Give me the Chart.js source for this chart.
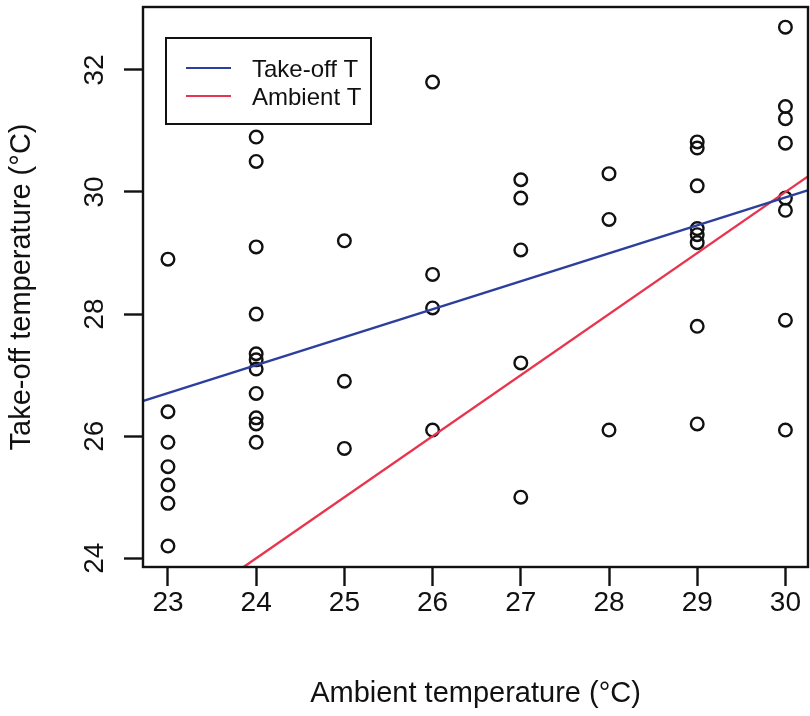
<!DOCTYPE html>
<html>
<head>
<meta charset="utf-8">
<script src="https://cdn.jsdelivr.net/npm/chart.js@4.4.1/dist/chart.umd.min.js"></script>
<style>
  html, body { margin: 0; padding: 0; background: #ffffff; }
  canvas { display: block; }
</style>
</head>
<body>
<canvas id="tempChart" width="810" height="716"></canvas>
<script>
// Observed temperatures (°C), grouped by ambient temperature
const ambientT = [
    23, 23, 23, 23, 23, 23, 23,
    24, 24, 24, 24, 24, 24, 24, 24, 24, 24, 24,
    25, 25, 25,
    26, 26, 26, 26,
    27, 27, 27, 27, 27,
    28, 28, 28,
    29, 29, 29, 29, 29, 29, 29, 29,
    30, 30, 30, 30, 30, 30, 30, 30
];
const takeoffT = [
    28.9, 26.4, 25.9, 25.5, 25.2, 24.9, 24.2,
    30.9, 30.5, 29.1, 28.0, 27.35, 27.25, 27.1, 26.7, 26.3, 26.2, 25.9,
    29.2, 26.9, 25.8,
    31.8, 28.65, 28.1, 26.1,
    30.2, 29.9, 29.05, 27.2, 25.0,
    30.3, 29.55, 26.1,
    30.82, 30.72, 30.1, 29.4, 29.3, 29.17, 27.8, 26.2,
    32.7, 31.4, 31.2, 30.8, 29.9, 29.7, 27.9, 26.1
];

// Fitted line (take-off T) and the 1:1 line (ambient T), end points
const takeoffFitX = [22.7, 30.3];
const takeoffFitY = [26.57, 30.05];
const ambientFitX = [22.7, 30.3];
const ambientFitY = [22.7, 30.3];

// Axes
const xTicks = [23, 24, 25, 26, 27, 28, 29, 30];
const yTicks = [24, 26, 28, 30, 32];
const xRange = [22.717, 30.256];
const yRange = [23.857, 33.03];

const FONT = '"Liberation Sans", Arial, Helvetica, sans-serif';
const INK = '#111111';

function toPoints(xs, ys) {
    return xs.map((x, i) => ({x: x, y: ys[i]}));
}

// Box around the plotting region
const plotBox = {
    id: 'plotBox',
    afterDatasetsDraw(chart) {
        const a = chart.chartArea;
        const ctx = chart.ctx;
        ctx.save();
        ctx.strokeStyle = INK;
        ctx.lineWidth = 2.4;
        ctx.strokeRect(a.left, a.top, a.right - a.left, a.bottom - a.top);
        ctx.restore();
    }
};

// y tick labels run parallel to the axis
const rotatedYLabels = {
    id: 'rotatedYLabels',
    afterDraw(chart) {
        const scale = chart.scales.y;
        const ctx = chart.ctx;
        ctx.save();
        ctx.font = '28px ' + FONT;
        ctx.fillStyle = INK;
        ctx.textAlign = 'center';
        ctx.textBaseline = 'alphabetic';
        yTicks.forEach(v => {
            const py = scale.getPixelForValue(v);
            ctx.save();
            ctx.translate(scale.right - 40, py);
            ctx.rotate(-Math.PI / 2);
            ctx.fillText(String(v), 0, 0);
            ctx.restore();
        });
        ctx.restore();
    }
};

// Legend box in the top-left corner of the plot
const boxLegend = {
    id: 'boxLegend',
    afterDraw(chart) {
        const a = chart.chartArea;
        const ctx = chart.ctx;
        const left = a.left + 23, top = a.top + 31;
        const items = chart.data.datasets.filter(d => d.showInLegend);
        ctx.save();
        ctx.fillStyle = '#ffffff';
        ctx.fillRect(left, top, 205, 86);
        ctx.strokeStyle = INK;
        ctx.lineWidth = 2;
        ctx.strokeRect(left, top, 205, 86);
        ctx.font = '24px ' + FONT;
        ctx.textBaseline = 'alphabetic';
        items.forEach((d, i) => {
            const y = top + 30 + i * 28;
            ctx.strokeStyle = d.borderColor;
            ctx.lineWidth = 2;
            ctx.beginPath();
            ctx.moveTo(left + 20, y);
            ctx.lineTo(left + 65, y);
            ctx.stroke();
            ctx.fillStyle = INK;
            ctx.fillText(d.label, left + 86, y + 8.5);
        });
        ctx.restore();
    }
};

const ctx = document.getElementById('tempChart').getContext('2d');
const tempChart = new Chart(ctx, {
    type: 'scatter',
    data: {
        datasets: [{
            label: 'Take-off T',
            showInLegend: true,
            data: toPoints(takeoffFitX, takeoffFitY),
            showLine: true,
            borderColor: '#2c3f9c',
            borderWidth: 2.4,
            pointRadius: 0
        }, {
            label: 'Ambient T',
            showInLegend: true,
            data: toPoints(ambientFitX, ambientFitY),
            showLine: true,
            borderColor: '#e8354f',
            borderWidth: 2.4,
            pointRadius: 0
        }, {
            label: 'Observations',
            data: toPoints(ambientT, takeoffT),
            pointStyle: 'circle',
            pointRadius: 6.3,
            borderWidth: 2.4,
            borderColor: INK,
            backgroundColor: 'rgba(0,0,0,0)'
        }]
    },
    options: {
        responsive: false,
        animation: false,
        layout: {
            autoPadding: false,
            padding: {top: 7, right: 2, bottom: 0, left: 0}
        },
        plugins: {
            legend: {display: false},
            tooltip: {enabled: false}
        },
        scales: {
            x: {
                type: 'linear',
                min: xRange[0],
                max: xRange[1],
                afterBuildTicks: scale => { scale.ticks = xTicks.map(v => ({value: v})); },
                afterFit: scale => {
                    scale.height = 149;
                    scale.paddingLeft = 0;
                    scale.paddingRight = 0;
                },
                border: {display: false},
                grid: {
                    drawOnChartArea: false,
                    drawTicks: true,
                    tickLength: 19,
                    tickWidth: 2.4,
                    tickColor: INK
                },
                ticks: {
                    color: INK,
                    padding: 0,
                    maxRotation: 0,
                    font: {family: FONT, size: 28, lineHeight: 1.2}
                },
                title: {
                    display: true,
                    text: 'Ambient temperature (°C)',
                    color: INK,
                    padding: {top: 0, bottom: 5},
                    font: {family: FONT, size: 29, lineHeight: 1.2}
                }
            },
            y: {
                type: 'linear',
                min: yRange[0],
                max: yRange[1],
                afterBuildTicks: scale => { scale.ticks = yTicks.map(v => ({value: v})); },
                afterFit: scale => {
                    scale.width = 143;
                    scale.paddingTop = 0;
                    scale.paddingBottom = 0;
                },
                border: {display: false},
                grid: {
                    drawOnChartArea: false,
                    drawTicks: true,
                    tickLength: 19,
                    tickWidth: 2.4,
                    tickColor: INK
                },
                ticks: {
                    color: 'rgba(0,0,0,0)',
                    font: {family: FONT, size: 28}
                },
                title: {
                    display: true,
                    text: 'Take-off temperature (°C)',
                    color: INK,
                    padding: {top: 5, bottom: 0},
                    font: {family: FONT, size: 29, lineHeight: 1.2}
                }
            }
        }
    },
    plugins: [plotBox, rotatedYLabels, boxLegend]
});
</script>
</body>
</html>
